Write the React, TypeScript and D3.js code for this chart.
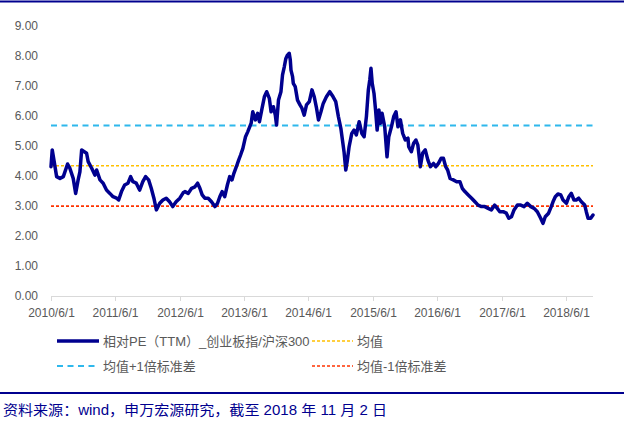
import React from "react";
import * as d3 from "d3";

const dates: string[] = [
  "2010-06-01","2010-06-08","2010-06-19","2010-07-03","2010-07-22","2010-08-10","2010-09-03","2010-09-16","2010-10-05","2010-10-19",
  "2010-11-02","2010-11-12","2010-11-22","2010-12-07","2010-12-20","2010-12-29","2011-01-18","2011-02-05","2011-02-15","2011-03-06",
  "2011-03-24","2011-04-12","2011-05-01","2011-05-19","2011-06-08","2011-06-20","2011-07-06","2011-07-24","2011-08-12","2011-08-27",
  "2011-09-09","2011-09-28","2011-10-17","2011-11-04","2011-11-20","2011-12-07","2011-12-22","2012-01-06","2012-01-20","2012-02-08",
  "2012-02-26","2012-03-16","2012-04-04","2012-04-22","2012-05-11","2012-06-01","2012-06-20","2012-06-30","2012-07-19","2012-08-07",
  "2012-08-26","2012-09-10","2012-09-23","2012-10-06","2012-10-21","2012-11-09","2012-11-28","2012-12-17","2013-01-01","2013-01-14",
  "2013-01-27","2013-02-11","2013-02-26","2013-03-11","2013-03-24","2013-04-04","2013-04-18","2013-05-01","2013-05-12","2013-05-25",
  "2013-06-09","2013-06-22","2013-07-11","2013-07-20","2013-08-04","2013-08-17","2013-08-27","2013-09-11","2013-09-24","2013-10-07",
  "2013-10-22","2013-11-01","2013-11-14","2013-11-25","2013-12-02","2013-12-13","2013-12-27","2014-01-05","2014-01-15","2014-01-24",
  "2014-02-02","2014-02-12","2014-02-18","2014-02-22","2014-03-03","2014-03-07","2014-03-18","2014-03-31","2014-04-14","2014-04-25",
  "2014-05-08","2014-05-21","2014-06-06","2014-06-21","2014-07-04","2014-07-17","2014-07-28","2014-08-11","2014-08-24","2014-09-11",
  "2014-09-30","2014-10-19","2014-11-03","2014-11-18","2014-12-02","2014-12-11","2014-12-20","2014-12-30","2015-01-08","2015-01-18",
  "2015-02-02","2015-02-15","2015-02-28","2015-03-16","2015-03-31","2015-04-13","2015-04-26","2015-05-07","2015-05-15","2015-05-22",
  "2015-05-29","2015-06-08","2015-06-17","2015-06-26","2015-07-06","2015-07-15","2015-07-24","2015-08-08","2015-08-21","2015-08-31",
  "2015-09-15","2015-09-28","2015-10-11","2015-10-22","2015-11-05","2015-11-18","2015-12-03","2015-12-18","2015-12-22","2016-01-06",
  "2016-01-19","2016-02-01","2016-02-12","2016-02-26","2016-03-10","2016-03-25","2016-04-09","2016-04-23","2016-05-11","2016-05-24",
  "2016-06-08","2016-06-23","2016-07-06","2016-07-19","2016-07-30","2016-08-13","2016-08-31","2016-09-19","2016-10-08","2016-10-21",
  "2016-11-05","2016-11-24","2016-12-13","2017-01-01","2017-01-19","2017-02-07","2017-02-26","2017-03-17","2017-04-04","2017-04-23",
  "2017-05-08","2017-05-22","2017-06-10","2017-06-28","2017-07-12","2017-07-27","2017-08-11","2017-08-30","2017-09-18","2017-10-07",
  "2017-10-25","2017-11-14","2017-12-03","2017-12-21","2018-01-09","2018-01-22","2018-02-04","2018-02-23","2018-03-10","2018-03-20",
  "2018-04-02","2018-04-17","2018-05-03","2018-05-16","2018-06-04","2018-06-18","2018-07-02","2018-07-17","2018-07-30","2018-08-13",
  "2018-08-28","2018-09-16","2018-09-25","2018-10-05","2018-10-20","2018-11-02",
];

const relPE: number[] = [
  4.31,4.87,4.48,3.98,3.92,3.98,4.40,4.26,3.92,3.42,
  3.87,4.14,4.87,4.81,4.76,4.48,4.26,4.03,4.20,3.87,
  3.76,3.53,3.42,3.31,3.26,3.20,3.48,3.70,3.76,3.98,
  3.81,3.76,3.53,3.81,3.98,3.87,3.59,3.26,2.87,3.09,
  3.20,3.26,3.14,2.98,3.14,3.26,3.44,3.48,3.42,3.59,
  3.64,3.76,3.59,3.37,3.26,3.26,3.14,2.98,3.09,3.31,
  3.48,3.31,3.70,3.98,3.87,4.09,4.31,4.53,4.70,4.92,
  5.31,5.48,5.76,6.14,5.87,6.09,5.81,6.26,6.64,6.81,
  6.59,6.14,6.31,6.03,5.70,6.53,6.81,7.37,7.64,7.92,
  8.03,8.09,7.87,7.53,7.31,7.09,6.98,6.53,6.37,6.26,
  6.03,6.37,6.48,6.87,6.64,6.26,5.87,6.14,6.42,6.64,
  6.81,6.64,6.48,5.98,5.59,5.20,4.81,4.20,4.53,4.98,
  5.42,5.53,5.37,5.81,5.42,5.31,5.98,6.87,7.20,7.59,
  7.09,6.76,6.20,5.53,6.20,5.76,6.09,5.64,4.64,5.31,
  5.64,5.98,6.14,5.64,5.87,5.42,5.20,5.26,4.98,4.81,
  5.09,5.20,5.03,4.31,4.76,4.87,4.53,4.31,4.42,4.31,
  4.42,4.59,4.59,4.31,4.20,3.92,3.87,3.81,3.81,3.59,
  3.48,3.37,3.26,3.14,3.03,2.98,2.98,2.92,2.87,3.03,
  2.92,2.81,2.81,2.76,2.59,2.64,2.87,3.03,3.03,2.98,
  3.09,2.98,2.92,2.81,2.59,2.42,2.64,2.76,2.98,3.14,
  3.31,3.40,3.37,3.20,3.09,3.31,3.42,3.20,3.20,3.26,
  3.14,3.03,2.81,2.59,2.59,2.70,
];

const meanValue = 4.34;
const stdValue = 1.345;
const yTicks: number[] = [0, 1, 2, 3, 4, 5, 6, 7, 8, 9];
const xTickDates: string[] = ["2010-06-01","2011-06-01","2012-06-01","2013-06-01","2014-06-01","2015-06-01","2016-06-01","2017-06-01","2018-06-01"];
const xTickLabels: string[] = ["2010/6/1","2011/6/1","2012/6/1","2013/6/1","2014/6/1","2015/6/1","2016/6/1","2017/6/1","2018/6/1"];
const legendLabels: string[] = ["相对PE（TTM）_创业板指/沪深300", "均值", "均值+1倍标准差", "均值-1倍标准差"];
const footerText = "资料来源：wind，申万宏源研究，截至 2018 年 11 月 2 日";

const W = 624, H = 424;
const left = 51, right = 593, top = 26, bottom = 296;
const navy = "#00008F";
const gray = "#595959";
const cYellow = "#FFC000";
const cCyan = "#2EB8EC";
const cRed = "#FF3300";
const font = "'Liberation Sans', Arial, 'Noto Sans CJK SC', sans-serif";

export default function App() {
  const parse = d3.timeParse("%Y-%m-%d");
  const data = dates.map((d, i) => ({ date: parse(d) as Date, v: relPE[i] }));
  const x = d3.scaleTime().domain([parse(dates[0]) as Date, parse(dates[dates.length - 1]) as Date]).range([left, right]);
  const y = d3.scaleLinear().domain([0, 9]).range([bottom, top]);
  const line = d3.line<{ date: Date; v: number }>().x(d => x(d.date)).y(d => y(d.v));
  const refs = [
    { v: meanValue + stdValue, color: cCyan, dash: "6,4.5", w: 2 },
    { v: meanValue, color: cYellow, dash: "3,2", w: 1.6 },
    { v: meanValue - stdValue, color: cRed, dash: "3,2", w: 1.6 },
  ];
  return (
    <svg width={W} height={H} style={{ position: "absolute", left: 0, top: 0, background: "#fff" }} fontFamily={font}>
      <line x1={0} x2={W} y1={1.5} y2={1.5} stroke={navy} strokeWidth={2} />
      {yTicks.map(t => (
        <text key={t} x={38} y={y(t)} dy="0.35em" textAnchor="end" fontSize={12} fill={gray}>{t.toFixed(2)}</text>
      ))}
      <line x1={left} x2={right} y1={bottom + 0.5} y2={bottom + 0.5} stroke="#D9D9D9" strokeWidth={1} />
      {xTickDates.map((d, i) => {
        const px = Math.round(x(parse(d) as Date)) + 0.5;
        return (
          <g key={d}>
            <line x1={px} x2={px} y1={bottom} y2={bottom + 5} stroke="#D9D9D9" strokeWidth={1} />
            <text x={px} y={bottom + 17} dy="0.35em" textAnchor="middle" fontSize={12} fill={gray}>{xTickLabels[i]}</text>
          </g>
        );
      })}
      {refs.map((r, i) => (
        <line key={i} x1={left} x2={right} y1={y(r.v)} y2={y(r.v)} stroke={r.color} strokeWidth={r.w} strokeDasharray={r.dash} />
      ))}
      <path d={line(data) || ""} fill="none" stroke={navy} strokeWidth={3.5} strokeLinejoin="round" strokeLinecap="round" />
      {/* legend */}
      <line x1={57} x2={99} y1={341} y2={341} stroke={navy} strokeWidth={3.5} />
      <text x={103} y={341} dy="0.35em" fontSize={13} fill={gray}>{legendLabels[0]}</text>
      <line x1={312} x2={353} y1={341} y2={341} stroke={cYellow} strokeWidth={1.6} strokeDasharray="3,2" />
      <text x={357} y={341} dy="0.35em" fontSize={13} fill={gray}>{legendLabels[1]}</text>
      <line x1={57} x2={99} y1={366} y2={366} stroke={cCyan} strokeWidth={2} strokeDasharray="6,4.5" />
      <text x={103} y={366} dy="0.35em" fontSize={13} fill={gray}>{legendLabels[2]}</text>
      <line x1={312} x2={353} y1={366} y2={366} stroke={cRed} strokeWidth={1.6} strokeDasharray="3,2" />
      <text x={357} y={366} dy="0.35em" fontSize={13} fill={gray}>{legendLabels[3]}</text>
      {/* footer */}
      <line x1={0} x2={W} y1={393} y2={393} stroke={navy} strokeWidth={2} />
      <text x={3} y={410} dy="0.35em" fontSize={14} fill={navy} textLength={384} lengthAdjust="spacingAndGlyphs"
        fontFamily="'Liberation Sans', 'Noto Sans CJK SC', sans-serif">{footerText}</text>
    </svg>
  );
}
